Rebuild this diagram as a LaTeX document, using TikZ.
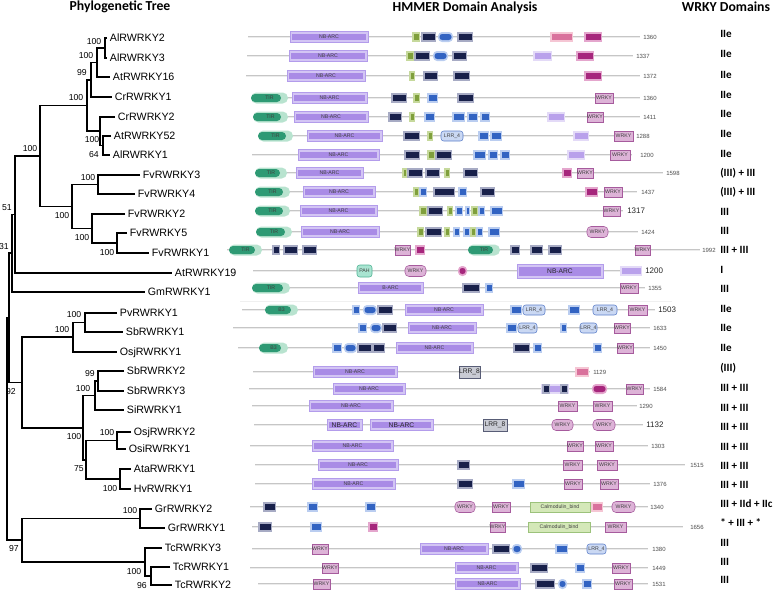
\documentclass[tikz,border=0pt]{standalone}
\usepackage{fontspec}
\setmainfont{Liberation Sans}
\newfontfamily\hdrfont{Carlito}
\definecolor{nbo}{HTML}{D3C5F4}
\definecolor{nbe}{HTML}{B39CEB}
\definecolor{nbi}{HTML}{A98BE6}
\definecolor{nvo}{HTML}{A7ABC4}
\definecolor{nvi}{HTML}{18204A}
\definecolor{blo}{HTML}{BACDF0}
\definecolor{bli}{HTML}{3263C2}
\definecolor{gro}{HTML}{C6D99C}
\definecolor{gri}{HTML}{7F9F3C}
\definecolor{mgo}{HTML}{E4A6CD}
\definecolor{mgi}{HTML}{A6267C}
\definecolor{lpo}{HTML}{E3DAF7}
\definecolor{lpi}{HTML}{B9A1EB}
\definecolor{pko}{HTML}{F5C6D4}
\definecolor{pki}{HTML}{D9719C}
\definecolor{wko}{HTML}{DDB3D7}
\definecolor{wke}{HTML}{A65B9D}
\definecolor{tiro}{HTML}{B8E3CF}
\definecolor{tiri}{HTML}{2E9A74}
\definecolor{lro}{HTML}{CAD8F3}
\definecolor{lre}{HTML}{5D80C9}
\definecolor{lgo}{HTML}{C9CBD4}
\definecolor{lge}{HTML}{585D76}
\definecolor{calo}{HTML}{D4E8B8}
\definecolor{cale}{HTML}{9CC27B}
\definecolor{paho}{HTML}{A9E4D1}
\definecolor{pahe}{HTML}{4FB293}
\newcounter{nid}
\newcommand\DL[4][dlab]{\stepcounter{nid}\node[#1] (dl\arabic{nid}) at ({#2},#3) {#4};}
\newcommand\BB[3]{\draw[bbo] (#1,#3) -- (#2,#3); \draw[bbi] (#1,#3) -- (#2,#3);}
\newcommand\LEN[3]{\stepcounter{nid}\node[lenlab] (ln\arabic{nid}) at (#1,#2) {#3};}
\newcommand\LENb[3]{\stepcounter{nid}\node[lenlabb] (ln\arabic{nid}) at (#1,#2) {#3};}
\newcommand\BX[6][3]{\fill[#2] (#4,{#6-5}) rectangle (#5,{#6+5});
  \fill[#3] ({#4+1.5},{#6-#1}) rectangle ({#5-1.5},{#6+#1});}
\newcommand\BXr[5]{\fill[#1, rounded corners=3pt] (#3,{#5-5}) rectangle (#4,{#5+5});
  \fill[#2, rounded corners=2pt] ({#3+1.5},{#5-3}) rectangle ({#4-1.5},{#5+3});}
\newcommand\NV[3]{\BX{nvo}{nvi}{#1}{#2}{#3}}
\newcommand\BL[3]{\BX{blo}{bli}{#1}{#2}{#3}}
\newcommand\BLr[3]{\BXr{blo}{bli}{#1}{#2}{#3}}
\newcommand\GR[3]{\BX{gro}{gri}{#1}{#2}{#3}}
\newcommand\MG[3]{\BX{mgo}{mgi}{#1}{#2}{#3}}
\newcommand\MGr[3]{\BXr{mgo}{mgi}{#1}{#2}{#3}}
\newcommand\LP[3]{\BX{lpo}{lpi}{#1}{#2}{#3}}
\newcommand\PK[3]{\BX{pko}{pki}{#1}{#2}{#3}}
\newcommand\NB[5][dlab]{\filldraw[fill=nbo, draw=nbe, line width=0.3pt] (#2,{#4-5.5}) rectangle (#3,{#4+5.5});
  \fill[nbi] ({#2+2},{#4-3}) rectangle ({#3-2},{#4+3}); \DL[#1]{(#2+#3)/2}{#4}{#5}}
\newcommand\NBt[4]{\filldraw[fill=nbo, draw=nbe, line width=0.3pt] (#1,{#3-7}) rectangle (#2,{#3+7});
  \fill[nbi] ({#1+2},{#3-4.5}) rectangle ({#2-2},{#3+4.5}); \DL[dlabb]{(#1+#2)/2}{#3}{#4}}
\newcommand\WK[3]{\filldraw[fill=wko, draw=wke, line width=0.4pt] (#1,{#3-5}) rectangle (#2,{#3+5}); \DL{(#1+#2)/2}{#3}{WRKY}}
\newcommand\WKr[3]{\filldraw[fill=wko, draw=wke, line width=0.4pt, rounded corners=3pt] (#1,{#3-5.5}) rectangle (#2,{#3+5.5}); \DL{(#1+#2)/2}{#3}{WRKY}}
\newcommand\TIR[4]{\fill[tiro, rounded corners=4pt] (#1,{#3-5.5}) rectangle (#2,{#3+5.5});
  \fill[tiri, rounded corners=3pt] (#1,{#3-4}) rectangle ({#2-7},{#3+4}); \DL{(#1+#2)/2}{#3}{#4}}
\newcommand\LR[4]{\filldraw[fill=lro, draw=lre, line width=0.4pt, rounded corners=2pt] (#1,{#3-5}) rectangle (#2,{#3+5}); \DL{(#1+#2)/2}{#3}{#4}}
\newcommand\LRg[4]{\filldraw[fill=lgo, draw=lge, line width=0.5pt] (#1,{#3-6}) rectangle (#2,{#3+6}); \DL[dlabb]{(#1+#2)/2}{#3}{#4}}
\newcommand\CAL[3]{\filldraw[fill=calo, draw=cale, line width=0.4pt] (#1,{#3-5}) rectangle (#2,{#3+5}); \DL{(#1+#2)/2}{#3}{Calmodulin\_bind}}
\newcommand\PAH[3]{\filldraw[fill=paho, draw=pahe, line width=0.4pt, rounded corners=2pt] (#1,{#3-6}) rectangle (#2,{#3+6}); \DL{(#1+#2)/2}{#3}{PAH}}
\tikzset{
 tr/.style={line width=0.85pt, black},
 leaf/.style={anchor=west, inner xsep=2pt, inner ysep=0pt, text height=5.7pt, text depth=0pt, font=\fontsize{8}{9}\selectfont},
 boot/.style={inner sep=0pt, font=\fontsize{6.5}{7}\selectfont},
 hdr/.style={inner sep=0pt, font=\hdrfont\bfseries\fontsize{10.3}{12}\selectfont, text height=6.6pt, text depth=0pt},
 wcol/.style={anchor=west, inner sep=0pt, font=\hdrfont\bfseries\fontsize{8.3}{10}\selectfont, text height=5.3pt, text depth=0pt},
 bbo/.style={line width=2.2pt, color=gray!45},
 bbi/.style={line width=0.7pt, color=gray!15},
 dlab/.style={inner sep=0pt, font=\fontsize{3.9}{4}\selectfont, text=black!75},
 dlabb/.style={inner sep=0pt, font=\fontsize{5}{5}\selectfont, text=black!85},
 lenlab/.style={anchor=west, inner sep=0pt, font=\fontsize{4.5}{5}\selectfont, text=black!70},
 lenlabb/.style={anchor=west, inner sep=0pt, font=\fontsize{6}{7}\selectfont, text=black!85},
}
\begin{document}
\begin{tikzpicture}[x=0.75pt,y=-0.75pt]
\useasboundingbox (0,0) rectangle (779,590);
% headers
\node[hdr] (h1) at (120,6.5) {Phylogenetic Tree};
\node[hdr] (h2) at (465,7) {HMMER Domain Analysis};
\node[hdr] (h3) at (726,7) {WRKY Domains};
% leaves
\node[leaf] (Al2) at (107,38) {AlRWRKY2};
\node[leaf] (Al3) at (107,58) {AlRWRKY3};
\node[leaf] (At16) at (110,77) {AtRWRKY16};
\node[leaf] (Cr1) at (112,97) {CrRWRKY1};
\node[leaf] (Cr2) at (115,117) {CrRWRKY2};
\node[leaf] (At52) at (111,136) {AtRWRKY52};
\node[leaf] (Al1) at (110,155) {AlRWRKY1};
\node[leaf] (Fv3) at (140,175) {FvRWRKY3};
\node[leaf] (Fv4) at (135,194) {FvRWRKY4};
\node[leaf] (Fv2) at (125,214) {FvRWRKY2};
\node[leaf] (Fv5) at (127,233) {FvRWRKY5};
\node[leaf] (Fv1) at (149,253) {FvRWRKY1};
\node[leaf] (At19) at (172,273) {AtRWRKY19};
\node[leaf] (Gm) at (145,292) {GmRWRKY1};
\node[leaf] (Pv) at (117,313) {PvRWRKY1};
\node[leaf] (Sb1) at (123,332) {SbRWRKY1};
\node[leaf] (Osj1) at (117,352) {OsjRWRKY1};
\node[leaf] (Sb2) at (124,371) {SbRWRKY2};
\node[leaf] (Sb3) at (124,391) {SbRWRKY3};
\node[leaf] (Si) at (124,410) {SiRWRKY1};
\node[leaf] (Osj2) at (131,432) {OsjRWRKY2};
\node[leaf] (Osi1) at (126,449) {OsiRWRKY1};
\node[leaf] (Ata) at (131,469) {AtaRWRKY1};
\node[leaf] (Hv) at (131,489) {HvRWRKY1};
\node[leaf] (Gr2) at (152,509) {GrRWRKY2};
\node[leaf] (Gr1) at (165,528) {GrRWRKY1};
\node[leaf] (Tc3) at (162,548) {TcRWRKY3};
\node[leaf] (Tc1) at (170,567) {TcRWRKY1};
\node[leaf] (Tc2) at (172,585) {TcRWRKY2};
% internal nodes
\coordinate (n1) at (105,48);
\coordinate (n2) at (97,62.5);
\coordinate (n3) at (91,80);
\coordinate (n5) at (103,145.5);
\coordinate (n6) at (100,131);
\coordinate (n4) at (87,105.5);
\coordinate (n7) at (98,184.5);
\coordinate (n8) at (117,243);
\coordinate (n9) at (92,228.5);
\coordinate (n10) at (72,206.5);
\coordinate (n11) at (40,156);
\coordinate (n12) at (15,214.5);
\coordinate (n13) at (12,253);
\coordinate (n14) at (85,322.5);
\coordinate (n15) at (73,337);
\coordinate (n16) at (98,381);
\coordinate (n17) at (95,395.5);
\coordinate (n18) at (117,440.5);
\coordinate (n19) at (120,479);
\coordinate (n20) at (86,460);
\coordinate (n21) at (83,428);
\coordinate (n22) at (22,382.5);
\coordinate (n23) at (9,318);
\coordinate (n24) at (140,518.5);
\coordinate (n25) at (151,576);
\coordinate (n26) at (145,562);
\coordinate (n27) at (22,540);
\coordinate (root) at (7,318);
% branches
\draw[tr] (Al2.west) -| (n1) |- (Al3.west);
\draw[tr] (n1) -| (n2) |- (At16.west);
\draw[tr] (n2) -| (n3) |- (Cr1.west);
\draw[tr] (At52.west) -| (n5) |- (Al1.west);
\draw[tr] (Cr2.west) -| (n6) |- (n5);
\draw[tr] (n3) -| (n4) |- (n6);
\draw[tr] (Fv3.west) -| (n7) |- (Fv4.west);
\draw[tr] (Fv5.west) -| (n8) |- (Fv1.west);
\draw[tr] (Fv2.west) -| (n9) |- (n8);
\draw[tr] (n7) -| (n10) |- (n9);
\draw[tr] (n4) -| (n11) |- (n10);
\draw[tr] (n11) -| (n12) |- (At19.west);
\draw[tr] (n12) -| (n13) |- (Gm.west);
\draw[tr] (Pv.west) -| (n14) |- (Sb1.west);
\draw[tr] (n14) -| (n15) |- (Osj1.west);
\draw[tr] (Sb2.west) -| (n16) |- (Sb3.west);
\draw[tr] (n16) -| (n17) |- (Si.west);
\draw[tr] (Osj2.west) -| (n18) |- (Osi1.west);
\draw[tr] (Ata.west) -| (n19) |- (Hv.west);
\draw[tr] (n18) -| (n20) |- (n19);
\draw[tr] (n17) -| (n21) |- (n20);
\draw[tr] (n15) -| (n22) |- (n21);
\draw[tr] (n13) -| (n23) |- (n22);
\draw[tr] (Gr2.west) -| (n24) |- (Gr1.west);
\draw[tr] (Tc1.west) -| (n25) |- (Tc2.west);
\draw[tr] (Tc3.west) -| (n26) |- (n25);
\draw[tr] (n24) -| (n27) |- (n26);
\draw[tr] (n23) -| (root) |- (n27);
% bootstrap values
\node[boot] (b1) at (94,42) {100};
\node[boot] (b2) at (86,56) {100};
\node[boot] (b3) at (82,73) {99};
\node[boot] (b4) at (76,98) {100};
\node[boot] (b5) at (92,140) {100};
\node[boot] (b6) at (94,155) {64};
\node[boot] (b7) at (30,149) {100};
\node[boot] (b8) at (88,178) {100};
\node[boot] (b9) at (62,216) {100};
\node[boot] (b10) at (82,238) {100};
\node[boot] (b11) at (107,253) {100};
\node[boot] (b12) at (7,208) {51};
\node[boot] (b13) at (4,247) {31};
\node[boot] (b14) at (74,315) {100};
\node[boot] (b15) at (62,330) {100};
\node[boot] (b16) at (90,374) {99};
\node[boot] (b17) at (83,389) {100};
\node[boot] (b18) at (11,392) {92};
\node[boot] (b19) at (107,433) {100};
\node[boot] (b20) at (74,437) {100};
\node[boot] (b21) at (79,469) {75};
\node[boot] (b22) at (110,489) {100};
\node[boot] (b23) at (130,511) {100};
\node[boot] (b24) at (14,549) {97};
\node[boot] (b25) at (134,572) {100};
\node[boot] (b26) at (142,586) {96};
% WRKY domain column
\node[wcol] (w1) at (720,34) {IIe};
\node[wcol] (w2) at (720,54) {IIe};
\node[wcol] (w3) at (720,75) {IIe};
\node[wcol] (w4) at (720,95) {IIe};
\node[wcol] (w5) at (720,114) {IIe};
\node[wcol] (w6) at (720,134) {IIe};
\node[wcol] (w7) at (720,154) {IIe};
\node[wcol] (w8) at (720,173) {(III) + III};
\node[wcol] (w9) at (720,192) {(III) + III};
\node[wcol] (w10) at (720,212) {III};
\node[wcol] (w11) at (720,231) {III};
\node[wcol] (w12) at (720,250) {III + III};
\node[wcol] (w13) at (720,270) {I};
\node[wcol] (w14) at (720,289) {III};
\node[wcol] (w15) at (720,309) {IIe};
\node[wcol] (w16) at (720,328) {IIe};
\node[wcol] (w17) at (720,348) {IIe};
\node[wcol] (w18) at (720,368) {(III)};
\node[wcol] (w19) at (720,388) {III + III};
\node[wcol] (w20) at (720,408) {III + III};
\node[wcol] (w21) at (720,427) {III + III};
\node[wcol] (w22) at (720,447) {III + III};
\node[wcol] (w23) at (720,466) {III + III};
\node[wcol] (w24) at (720,485) {III + III};
\node[wcol] (w25) at (720,504) {III + IId + IIc};
\node[wcol] (w26) at (720,523) {* + III + *};
\node[wcol] (w27) at (720,543) {III};
\node[wcol] (w28) at (720,562) {III};
\node[wcol] (w29) at (720,580) {III};
% faint separator
\draw[gray!12, line width=0.5pt] (240,301) -- (672,301);
% ---------------- domain rows ----------------
% R1
\BB{248}{640}{37} \NB{290}{368}{37}{NB-ARC} \GR{412}{420}{37} \NV{421}{436}{37} \BLr{438}{453}{37} \NV{457}{473}{37} \PK{550}{573}{37} \MG{584}{602}{37} \LEN{643}{37}{1360}
% R2
\BB{247}{633}{56} \NB{289}{367}{56}{NB-ARC} \GR{406}{414}{56} \NV{414}{430}{56} \BLr{433}{448}{56} \NV{452}{467}{56} \LP{533}{552}{56} \MG{576}{594}{56} \LEN{636}{56}{1337}
% R3
\BB{246}{640}{76} \NB{287}{365}{76}{NB-ARC} \GR{409}{415}{76} \NV{423}{438}{76} \NV{453}{470}{76} \MG{584}{602}{76} \LEN{643}{76}{1372}
% R4
\BB{251}{640}{98} \TIR{251}{288}{98}{TIR} \NB{292}{367}{98}{NB-ARC} \NV{391}{407}{98} \GR{413}{420}{98} \BL{427}{438}{98} \NV{457}{474}{98} \WK{595}{613}{98} \LEN{643}{98}{1360}
% R5
\BB{253}{640}{117} \TIR{253}{288}{117}{TIR} \NB{294}{368}{117}{NB-ARC} \NV{388}{402}{117} \GR{409}{415}{117} \BL{424}{435}{117} \BL{452}{465}{117} \BL{467}{478}{117} \BL{480}{490}{117} \LP{547}{565}{117} \WK{587}{603}{117} \LEN{643}{117}{1411}
% R6
\BB{258}{633}{136} \TIR{258}{293}{136}{TIR} \NB{307}{382}{136}{NB-ARC} \NV{403}{420}{136} \GR{427}{433}{136} \LR{441}{463}{136}{LRR\_4} \BL{478}{489}{136} \BL{490}{502}{136} \LP{573}{589}{136} \WK{614}{633}{136} \LEN{636}{136}{1288}
% R7
\BB{252}{632}{155} \NB{298}{379}{155}{NB-ARC} \NV{404}{420}{155} \GR{427}{435}{155} \NV{435}{452}{155} \BL{473}{486}{155} \BL{488}{498}{155} \BL{500}{510}{155} \LP{567}{585}{155} \WK{610}{630}{155} \LEN{640}{155}{1200}
% R8
\BB{255}{663}{173} \TIR{255}{287}{173}{TIR} \NB{296}{363}{173}{NB-ARC} \GR{402}{407}{173} \NV{407}{423}{173} \NV{425}{440}{173} \GR{444}{450}{173} \NV{463}{478}{173} \MG{562}{572}{173} \WK{577}{593}{173} \LEN{666}{173}{1598}
% R9
\BB{255}{637}{192} \TIR{255}{290}{192}{TIR} \NB{303}{375}{192}{NB-ARC} \GR{413}{419}{192} \BL{419}{427}{192} \NV{433}{455}{192} \BL{458}{467}{192} \NV{480}{495}{192} \MG{585}{598}{192} \WK{604}{622}{192} \LEN{641}{192}{1437}
% R10
\BB{255}{623}{211} \TIR{255}{290}{211}{TIR} \NB{300}{377}{211}{NB-ARC} \GR{419}{427}{211} \NV{427}{443}{211} \GR{447}{453}{211} \BL{455}{463}{211} \BL{465}{470}{211} \GR{471}{478}{211} \BL{478}{485}{211} \BL{490}{503}{211} \WK{603}{620}{211} \LENb{627}{211}{1317}
% R11
\BB{256}{638}{232} \TIR{256}{292}{232}{TIR} \NB{301}{379}{232}{NB-ARC} \GR{417}{424}{232} \NV{425}{442}{232} \GR{444}{450}{232} \BL{453}{460}{232} \BL{463}{470}{232} \GR{470}{476}{232} \BL{476}{483}{232} \BL{488}{500}{232} \WKr{587}{608}{232} \LEN{641}{232}{1424}
% R12
\BB{227}{700}{250} \TIR{229}{262}{250}{TIR} \NV{272}{280}{250} \NV{283}{298}{250} \NV{302}{317}{250} \WK{395}{410}{250} \MG{415}{425}{250} \TIR{468}{500}{250}{TIR} \NV{510}{520}{250} \NV{530}{543}{250} \NV{548}{562}{250} \WK{635}{650}{250} \LEN{702}{250}{1992}
% R13
\BB{253}{642}{271} \PAH{357}{372}{271} \WKr{405}{426}{271} \MGr{458}{467}{271} \NBt{517}{603}{271}{NB-ARC} \LP{620}{642}{271} \LENb{645}{271}{1200}
% R14
\BB{252}{645}{288} \TIR{252}{290}{288}{TIR} \NB{358}{423}{288}{B-ARC} \NV{462}{480}{288} \BL{485}{493}{288} \WK{620}{638}{288} \LEN{648}{288}{1355}
% R15
\BB{242}{655}{310} \TIR{265}{298}{310}{B3} \BL{352}{360}{310} \BLr{363}{377}{310} \NV{377}{393}{310} \NB{405}{483}{310}{NB-ARC} \BL{510}{522}{310} \LR{523}{545}{310}{LRR\_4} \BL{568}{580}{310} \LR{593}{617}{310}{LRR\_4} \WK{628}{647}{310} \LENb{658}{310}{1503}
% R16
\BB{233}{650}{328} \BL{358}{367}{328} \BLr{370}{382}{328} \NV{382}{397}{328} \NB{408}{476}{328}{NB-ARC} \BL{506}{517}{328} \LR{518}{537}{328}{LRR\_4} \BL{560}{567}{328} \LR{580}{597}{328}{LRR\_4} \WK{614}{630}{328} \LEN{653}{328}{1633}
% R17
\BB{238}{650}{348} \TIR{259}{288}{348}{B3} \BL{332}{342}{348} \BLr{344}{357}{348} \NV{357}{372}{348} \NV{372}{385}{348} \NB{396}{473}{348}{NB-ARC} \NV{513}{530}{348} \BL{533}{542}{348} \BL{593}{602}{348} \WK{617}{633}{348} \LEN{653}{348}{1450}
% R18
\BB{253}{590}{372} \NB{313}{397}{372}{NB-ARC} \LRg{459}{480}{372}{LRR\_8} \PK{575}{589}{372} \LEN{593}{372}{1129}
% R19
\BB{249}{650}{389} \NB{333}{405}{389}{NB-ARC} \LP{541}{569}{389} \NV{542}{550}{389} \NV{560}{568}{389} \MGr{592}{607}{389} \WK{626}{643}{389} \LEN{653}{389}{1584}
% R20
\BB{252}{637}{406} \NB{309}{393}{406}{NB-ARC} \WK{558}{577}{406} \WK{593}{612}{406} \LEN{639}{406}{1290}
% R21
\BB{254}{643}{425} \NB[dlabb]{327}{362}{425}{NB-ARC} \NB[dlabb]{370}{433}{425}{NB-ARC} \LRg{483}{507}{425}{LRR\_8} \WKr{552}{573}{425} \WKr{593}{615}{425} \LENb{646}{425}{1132}
% R22
\BB{250}{648}{446} \NB{312}{393}{446}{NB-ARC} \WK{567}{583}{446} \WK{595}{613}{446} \LEN{651}{446}{1303}
% R23
\BB{255}{685}{465} \NB{318}{398}{465}{NB-ARC} \NV{457}{470}{465} \WK{563}{582}{465} \WK{597}{617}{465} \LEN{690}{465}{1515}
% R24
\BB{255}{650}{484} \NB{312}{395}{484}{NB-ARC} \NV{457}{473}{484} \BL{512}{525}{484} \WK{564}{582}{484} \WK{600}{618}{484} \LEN{653}{484}{1376}
% R25
\BB{250}{648}{507} \NV{263}{276}{507} \BL{307}{318}{507} \BL{365}{376}{507} \WKr{455}{475}{507} \WK{492}{510}{507} \CAL{530}{590}{507} \PK{591}{603}{507} \WKr{612}{635}{507} \LEN{650}{507}{1340}
% R26
\BB{252}{683}{527} \NV{258}{272}{527} \BL{310}{322}{527} \MG{368}{378}{527} \WK{490}{505}{527} \CAL{528}{590}{527} \WK{605}{626}{527} \LEN{690}{527}{1656}
% R27
\BB{252}{648}{549} \WK{312}{328}{549} \NB{420}{488}{549}{NB-ARC} \NV{492}{510}{549} \BLr{512}{522}{549} \BL{555}{568}{549} \LR{587}{606}{549}{LRR\_4} \LEN{652}{549}{1380}
% R28
\BB{250}{648}{568} \WK{322}{338}{568} \NB{455}{518}{568}{NB-ARC} \NV{530}{548}{568} \BL{575}{585}{568} \WK{612}{630}{568} \LEN{652}{568}{1449}
% R29
\BB{258}{648}{584} \WK{313}{330}{584} \NB{455}{520}{584}{NB-ARC} \NV{535}{555}{584} \BLr{558}{567}{584} \BL{582}{592}{584} \WK{614}{632}{584} \LEN{652}{584}{1531}
\end{tikzpicture}
\end{document}
